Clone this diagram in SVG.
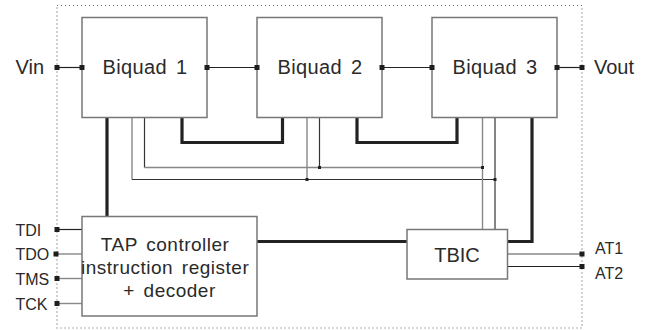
<svg xmlns="http://www.w3.org/2000/svg" width="647" height="330" viewBox="0 0 647 330">
<style>
.box{fill:#fff;stroke:#777;stroke-width:1.5}
.t{font-family:"Liberation Sans",Arial,sans-serif;fill:#2a2a2a}
.big{font-size:20px}
.mid{font-size:19px}
.sm{font-size:16px}
.thick{fill:none;stroke:#222;stroke-width:3.2}
.g{fill:none;stroke:#888;stroke-width:1.4}
.k{fill:none;stroke:#333;stroke-width:1.2}
.sig{fill:none;stroke:#222;stroke-width:1.2}
.port{fill:#1e1e1e}
.dot{fill:#222}
.frame{fill:none;stroke:#666;stroke-width:1.2;stroke-dasharray:1 3}
</style>
<rect class="frame" x="57" y="5.5" width="525" height="322.5"/>
<g id="connectors">
<!-- signal path -->
<line class="sig" x1="57" y1="67.5" x2="82" y2="67.5"/>
<line class="sig" x1="207" y1="67.5" x2="257" y2="67.5"/>
<line class="sig" x1="382" y1="67.5" x2="432" y2="67.5"/>
<line class="sig" x1="557" y1="67.5" x2="582" y2="67.5"/>
<!-- thick buses -->
<polyline class="thick" points="107,117 107,217"/>
<polyline class="thick" points="182,117 182,142.5 282.5,142.5 282.5,117"/>
<polyline class="thick" points="357,117 357,142.5 457,142.5 457,117"/>
<polyline class="thick" points="532,117 532,241.5 507,241.5"/>
<polyline class="thick" points="257,241.5 407,241.5"/>
<!-- thin control lines -->
<polyline class="g" points="132,117 132,179.5"/>
<polyline class="k" points="132,179.5 495,179.5"/>
<polyline class="k" points="144.5,117 144.5,167.5"/>
<polyline class="g" points="144.5,167.5 482.5,167.5"/>
<line class="g" x1="307" y1="117" x2="307" y2="179.5"/>
<line class="k" x1="319.5" y1="117" x2="319.5" y2="167.5"/>
<line class="g" x1="482.5" y1="117" x2="482.5" y2="229.5"/>
<line class="k" x1="495" y1="117" x2="495" y2="229.5"/>
<rect class="dot" x="305.5" y="178" width="3" height="3"/>
<rect class="dot" x="318" y="166" width="3" height="3"/>
<rect class="dot" x="481" y="166" width="3" height="3"/>
<rect class="dot" x="493.5" y="178" width="3" height="3"/>
<!-- JTAG -->
<line class="sig" x1="57" y1="229.5" x2="82" y2="229.5"/>
<line class="g" x1="57" y1="254" x2="82" y2="254"/>
<line class="g" x1="57" y1="278.5" x2="82" y2="278.5"/>
<line class="g" x1="57" y1="303.5" x2="82" y2="303.5"/>
<!-- analog test -->
<line class="g" x1="507" y1="254" x2="582" y2="254"/>
<line class="sig" x1="507" y1="266.5" x2="582" y2="266.5"/>
</g>
<g id="biquad1">
<rect class="box" x="82" y="17.5" width="125" height="100"/>
<text class="t big" x="145" y="73.5" text-anchor="middle" letter-spacing="0.4" word-spacing="3">Biquad 1</text>
<rect class="port" x="79.5" y="65" width="5" height="5"/>
<rect class="port" x="204.5" y="65" width="5" height="5"/>
</g>
<g id="biquad2">
<rect class="box" x="257" y="17.5" width="125" height="100"/>
<text class="t big" x="320" y="73.5" text-anchor="middle" letter-spacing="0.4" word-spacing="3">Biquad 2</text>
<rect class="port" x="254.5" y="65" width="5" height="5"/>
<rect class="port" x="379.5" y="65" width="5" height="5"/>
</g>
<g id="biquad3">
<rect class="box" x="432" y="17.5" width="125" height="100"/>
<text class="t big" x="495" y="73.5" text-anchor="middle" letter-spacing="0.4" word-spacing="3">Biquad 3</text>
<rect class="port" x="429.5" y="65" width="5" height="5"/>
<rect class="port" x="554.5" y="65" width="5" height="5"/>
</g>
<g id="tap">
<rect class="box" x="82" y="216.5" width="175" height="99.5"/>
<text class="t mid" text-anchor="middle" letter-spacing="0.5" word-spacing="3">
<tspan x="169.5" y="250.5">TAP controller</tspan>
<tspan x="169.5" y="274">instruction register</tspan>
<tspan x="169.5" y="297">+ decoder</tspan>
</text>
</g>
<g id="tbic">
<rect class="box" x="407" y="229.5" width="100.5" height="49.5"/>
<text class="t big" x="457" y="262" text-anchor="middle">TBIC</text>
</g>
<g id="vin">
<rect class="port" x="54.5" y="65" width="5" height="5"/>
<text class="t big" x="15.5" y="74">Vin</text>
</g>
<g id="vout">
<rect class="port" x="579.5" y="65" width="5" height="5"/>
<text class="t big" x="594" y="74">Vout</text>
</g>
<g id="tdi"><rect class="port" x="54.5" y="227" width="5" height="5"/><text class="t sm" x="15.5" y="235.5">TDI</text></g>
<g id="tdo"><rect class="port" x="53.5" y="251.5" width="5" height="5"/><text class="t sm" x="15.5" y="260">TDO</text></g>
<g id="tms"><rect class="port" x="54.5" y="276" width="5" height="5"/><text class="t sm" x="15.5" y="284.5">TMS</text></g>
<g id="tck"><rect class="port" x="54.5" y="301" width="5" height="5"/><text class="t sm" x="15.5" y="309.5">TCK</text></g>
<g id="at1"><rect class="port" x="579.5" y="251.5" width="5" height="5"/><text class="t sm" x="595" y="253.5">AT1</text></g>
<g id="at2"><rect class="port" x="579.5" y="264" width="5" height="5"/><text class="t sm" x="595" y="279">AT2</text></g>
</svg>
